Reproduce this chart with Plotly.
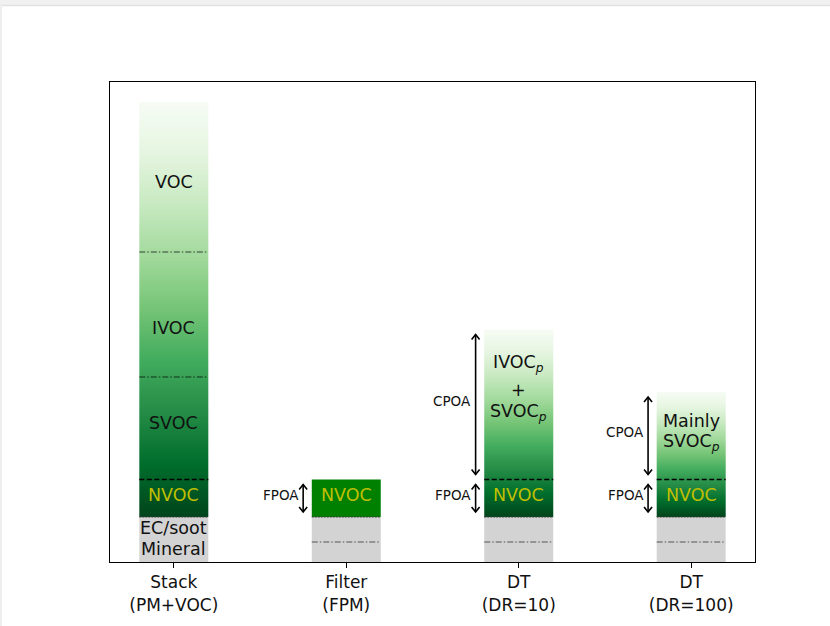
import numpy as np
import plotly.graph_objects as go

# ---- data -------------------------------------------------------------
bar_labels = ["Stack<br>(PM+VOC)", "Filter<br>(FPM)", "DT<br>(DR=10)", "DT<br>(DR=100)"]
mineral = [0.8, 0.8, 0.8, 0.8]
ec_soot = [1.0, 1.0, 1.0, 1.0]
nvoc = [1.5, 1.5, 1.5, 1.5]
svoc = [4.1, 0.0, 0.0, 0.0]
ivoc = [5.0, 0.0, 0.0, 0.0]
voc = [6.0, 0.0, 0.0, 0.0]
cpoa = [0.0, 0.0, 6.0, 3.5]   # condensable part measured in the dilution tunnel

# ---- style ------------------------------------------------------------
FONT = "DejaVu Sans"
BAR_W = 0.4
GRAY = "#d3d3d3"
SOLID_GREEN = "#008000"
NVOC_TXT = "#bfbf00"
GREENS = [[0.0, "#f7fcf5"], [0.125, "#e5f5e0"], [0.25, "#c7e9c0"],
          [0.375, "#a1d99b"], [0.5, "#74c476"], [0.625, "#41ab5d"],
          [0.75, "#238b45"], [0.875, "#006d2c"], [1.0, "#00441b"]]

W, H = 830, 626
MARGIN = dict(l=110, r=75, t=82, b=64)
XR = [-0.37, 3.37]
YR = [0, 19.2]
# pixel -> data unit conversions (used for arrow heads / offsets)
PX_X = (XR[1] - XR[0]) / (W - MARGIN["l"] - MARGIN["r"])
PX_Y = (YR[1] - YR[0]) / (H - MARGIN["t"] - MARGIN["b"])

xpos = np.arange(len(bar_labels))
gray_top = [m + e for m, e in zip(mineral, ec_soot)]
nvoc_top = [g + n for g, n in zip(gray_top, nvoc)]
svoc_top = nvoc_top[0] + svoc[0]
ivoc_top = svoc_top + ivoc[0]
stack_top = ivoc_top + voc[0]
organic_top = [stack_top, nvoc_top[1], nvoc_top[2] + cpoa[2], nvoc_top[3] + cpoa[3]]

fig = go.Figure()

# mineral + EC/soot (gray base of every bar)
fig.add_trace(go.Bar(x=xpos, y=mineral, base=[0] * 4, width=BAR_W,
                     marker=dict(color=GRAY, line=dict(width=0)), showlegend=False))
fig.add_trace(go.Bar(x=xpos, y=ec_soot, base=mineral, width=BAR_W,
                     marker=dict(color=GRAY, line=dict(width=0)), showlegend=False))
# filter: non-volatile organics only, solid colour
fig.add_trace(go.Bar(x=[xpos[1]], y=[nvoc[1]], base=[gray_top[1]], width=BAR_W,
                     marker=dict(color=SOLID_GREEN, line=dict(width=0)), showlegend=False))

# volatility gradient: dark (non-volatile) at the bottom to light (volatile) at the top
N = 300
for i in (0, 2, 3):
    y0, y1 = gray_top[i], organic_top[i]
    edges = np.linspace(y0, y1, N + 1)
    mids = 0.5 * (edges[:-1] + edges[1:])
    z = (1.0 - (mids - y0) / (y1 - y0)).reshape(-1, 1)
    fig.add_trace(go.Heatmap(x=[xpos[i] - BAR_W / 2, xpos[i] + BAR_W / 2], y=edges, z=z,
                             colorscale=GREENS, zmin=0, zmax=1, showscale=False,
                             hoverinfo="skip"))

shapes = []


def hline(i, y, dash, color, width=1.0):
    shapes.append(dict(type="line", xref="x", yref="y",
                       x0=xpos[i] - BAR_W / 2, x1=xpos[i] + BAR_W / 2, y0=y, y1=y,
                       line=dict(color=color, width=width, dash=dash)))


DASHDOT = "6px,2px,1.5px,2px"
for i in (1, 2, 3):
    hline(i, mineral[i], DASHDOT, "#555555")
for i in range(4):
    hline(i, gray_top[i], "2px,1px", "#3c3c3c")
for i in (0, 2, 3):
    hline(i, nvoc_top[i], "5px,2.5px", "#000000", 1.4)
hline(0, svoc_top, DASHDOT, "rgba(0,0,0,0.7)", 1.2)
hline(0, ivoc_top, DASHDOT, "rgba(0,0,0,0.7)", 1.2)

# light window frame strip along the top and left edge of the page
shapes.append(dict(type="rect", xref="paper", yref="paper", layer="above",
                   x0=-0.2, x1=1.2, y0=1 + 77 / 480, y1=1 + 83 / 480,
                   fillcolor="#f1f1f1", line=dict(width=0)))
shapes.append(dict(type="line", xref="paper", yref="paper", layer="above",
                   x0=-0.2, x1=1.2, y0=1 + 76.5 / 480, y1=1 + 76.5 / 480,
                   line=dict(color="#e2e2e2", width=1.5)))
shapes.append(dict(type="rect", xref="paper", yref="paper", layer="above",
                   x0=-0.2, x1=-108 / 645, y0=-0.2, y1=1 + 77 / 480,
                   fillcolor="#eeeeee", line=dict(width=0)))

annotations = []


def label(x, y, text, size=17.5, color="#111111", xanchor="center"):
    annotations.append(dict(x=x, y=y, xref="x", yref="y", text=text, showarrow=False,
                            xanchor=xanchor, yanchor="middle", borderpad=0,
                            font=dict(family=FONT, size=size, color=color)))


# stack labels
label(xpos[0], 15.19, "VOC")
label(xpos[0], 9.38, "IVOC")
label(xpos[0], 5.58, "SVOC")
label(xpos[0], 1.36, "EC/soot")
label(xpos[0], 0.53, "Mineral")
for i in range(4):
    label(xpos[i], 2.68, "NVOC", color=NVOC_TXT)
# dilution tunnel labels
label(xpos[2], 7.94, "IVOC<sub><i>p</i></sub>")
label(xpos[2], 6.90, "+")
label(xpos[2], 6.00, "SVOC<sub><i>p</i></sub>")
label(xpos[3], 5.66, "Mainly")
label(xpos[3], 4.78, "SVOC<sub><i>p</i></sub>")

# FPOA / CPOA double-headed arrows drawn as open chevrons
ARROW_DX = 0.25
TXT_DX = 0.27
SHRINK = 5 * PX_Y
HEAD_HW = 4.0 * PX_X
HEAD_LEN = 5.0 * PX_Y

ax_pts, ay_pts = [], []


def span_arrow(i, ylo, yhi, text):
    xa = xpos[i] - ARROW_DX
    lo, hi = ylo + SHRINK, yhi - SHRINK
    ax_pts.extend([xa, xa, None,
                   xa - HEAD_HW, xa, xa + HEAD_HW, None,
                   xa - HEAD_HW, xa, xa + HEAD_HW, None])
    ay_pts.extend([lo, hi, None,
                   hi - HEAD_LEN, hi, hi - HEAD_LEN, None,
                   lo + HEAD_LEN, lo, lo + HEAD_LEN, None])
    label(xpos[i] - TXT_DX, 0.5 * (ylo + yhi) + 0.15, text, size=13.5, xanchor="right")


for i in (1, 2, 3):
    span_arrow(i, gray_top[i], nvoc_top[i], "FPOA")
for i in (2, 3):
    span_arrow(i, nvoc_top[i], organic_top[i], "CPOA")

fig.add_trace(go.Scatter(x=ax_pts, y=ay_pts, mode="lines", showlegend=False,
                         hoverinfo="skip",
                         line=dict(color="#000000", width=1.6)))

fig.update_layout(
    width=W, height=H,
    margin=MARGIN,
    paper_bgcolor="white", plot_bgcolor="white",
    barmode="overlay", showlegend=False,
    font=dict(family=FONT, size=17, color="#000000"),
    shapes=shapes, annotations=annotations,
    xaxis=dict(range=XR, tickmode="array", tickvals=list(xpos),
               ticktext=bar_labels, ticks="outside", ticklen=5, tickwidth=1,
               tickcolor="black", showline=True, mirror=True, linecolor="black",
               linewidth=1, showgrid=False, zeroline=False,
               tickfont=dict(family=FONT, size=17, color="#111111")),
    yaxis=dict(range=YR, showticklabels=False, ticks="", showline=True,
               mirror=True, linecolor="black", linewidth=1, showgrid=False,
               zeroline=False),
)

fig.write_html("out.html")
